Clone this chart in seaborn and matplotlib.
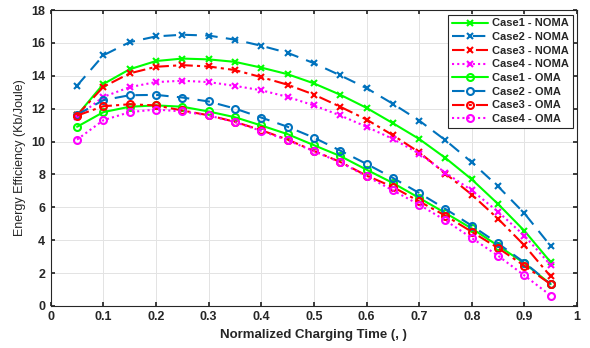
import numpy as np
import pandas as pd
import matplotlib
matplotlib.use("Agg")
import matplotlib.pyplot as plt
import seaborn as sns

x = [0.05, 0.10, 0.15, 0.20, 0.25, 0.30, 0.35, 0.40, 0.45, 0.50,
     0.55, 0.60, 0.65, 0.70, 0.75, 0.80, 0.85, 0.90, 0.95]

case1_noma = [11.6, 13.5, 14.4, 14.9, 15.05, 15.0, 14.85, 14.5, 14.1, 13.54,
              12.85, 12.05, 11.12, 10.16, 9.0, 7.7, 6.2, 4.57, 2.66]
case2_noma = [13.4, 15.25, 16.05, 16.4, 16.5, 16.45, 16.2, 15.83, 15.4, 14.77,
              14.03, 13.25, 12.3, 11.28, 10.08, 8.74, 7.27, 5.63, 3.64]
case3_noma = [11.6, 13.33, 14.15, 14.55, 14.65, 14.57, 14.35, 13.92, 13.46, 12.86,
              12.12, 11.34, 10.39, 9.35, 8.05, 6.77, 5.3, 3.68, 1.79]
case4_noma = [11.5, 12.72, 13.31, 13.62, 13.7, 13.62, 13.39, 13.12, 12.72, 12.2,
              11.59, 10.9, 10.16, 9.27, 8.1, 7.03, 5.73, 4.27, 2.48]
case1_oma = [10.9, 11.79, 12.12, 12.2, 12.12, 11.83, 11.48, 10.98, 10.45, 9.78,
             9.12, 8.29, 7.48, 6.57, 5.65, 4.71, 3.66, 2.6, 1.32]
case2_oma = [11.63, 12.52, 12.82, 12.84, 12.68, 12.44, 12.01, 11.46, 10.9, 10.24,
             9.45, 8.64, 7.79, 6.87, 5.9, 4.88, 3.8, 2.64, 1.32]
case3_oma = [11.58, 12.15, 12.27, 12.2, 11.89, 11.6, 11.2, 10.69, 10.12, 9.43,
             8.76, 7.93, 7.24, 6.36, 5.49, 4.51, 3.52, 2.44, 1.32]
case4_oma = [10.12, 11.3, 11.79, 11.95, 11.83, 11.59, 11.18, 10.65, 10.08, 9.41,
             8.74, 7.89, 7.03, 6.16, 5.2, 4.13, 3.05, 1.85, 0.63]

labels = ["Case1 - NOMA", "Case2 - NOMA", "Case3 - NOMA", "Case4 - NOMA",
          "Case1 - OMA", "Case2 - OMA", "Case3 - OMA", "Case4 - OMA"]
series = [case1_noma, case2_noma, case3_noma, case4_noma,
          case1_oma, case2_oma, case3_oma, case4_oma]

colors = ["#00FF00", "#0072BD", "#FF0000", "#FF00FF"] * 2
linestyles = ["-", (0, (6, 4)), (0, (6, 2, 1.5, 2)), (0, (1, 1.5))] * 2
markers = ["x"] * 4 + ["o"] * 4

sns.set_theme(style="whitegrid")
plt.rcParams['font.family'] = ['Liberation Sans', 'DejaVu Sans']

fig = plt.figure(figsize=(5.9, 3.48), dpi=100)
ax = fig.add_axes([0.086, 0.121, 0.892, 0.850])

for lab, ys, c, ls, m in zip(labels, series, colors, linestyles, markers):
    df = pd.DataFrame({"x": x, "y": ys})
    sns.lineplot(data=df, x="x", y="y", ax=ax, color=c, linestyle=ls, lw=1.5,
                 marker=m, markersize=5, markeredgewidth=1.5,
                 markerfacecolor="none", markeredgecolor=c, label=lab)

ax.set_xlim(0, 1)
ax.set_ylim(0, 18)
ax.set_xticks(np.arange(0, 1.01, 0.1))
ax.set_xticklabels(["0", "0.1", "0.2", "0.3", "0.4", "0.5", "0.6", "0.7", "0.8", "0.9", "1"])
ax.set_yticks(np.arange(0, 19, 2))
ax.grid(True, color="#E3E3E3", linewidth=0.7)
ax.set_facecolor("white")
for s in ax.spines.values():
    s.set_color("#262626")
    s.set_linewidth(0.8)
ax.tick_params(direction="in", length=3, color="#262626", labelsize=9, pad=4,
               top=True, right=True, bottom=True, left=True)
for t in ax.get_xticklabels() + ax.get_yticklabels():
    t.set_fontweight("bold")
    t.set_color("#262626")
ax.set_xlabel("Normalized Charging Time (, )", fontsize=9.5, fontweight="bold", color="#262626")
ax.set_ylabel("Energy Efficiency (Kb/Joule)", fontsize=9, color="#262626")

leg = ax.legend(loc="upper right", frameon=True, fancybox=False,
                edgecolor="#262626", framealpha=1, handlelength=3.3,
                borderpad=0.35, labelspacing=0.33, handletextpad=0.3,
                borderaxespad=0.4, prop={"weight": "bold", "size": 8})
leg.get_frame().set_linewidth(0.8)

fig.savefig("out.png", dpi=100)
